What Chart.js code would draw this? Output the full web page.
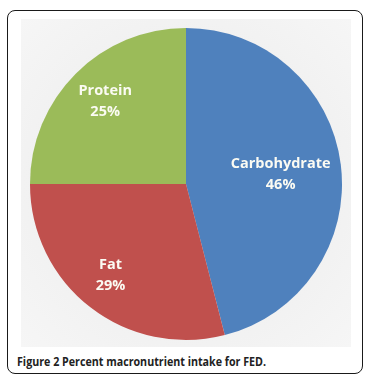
<!DOCTYPE html>
<html>
<head>
<meta charset="utf-8">
<script src="https://cdn.jsdelivr.net/npm/chart.js@4/dist/chart.umd.min.js"></script>
<style>
  html, body { margin: 0; padding: 0; background: #fff; width: 370px; height: 384px; overflow: hidden; }
  #frame { position: absolute; left: 7px; top: 10px; width: 356px; height: 364px; border: 1.5px solid #1a1a1a; border-radius: 8px; box-sizing: border-box; }
  #bg { position: absolute; left: 21px; top: 19px; width: 330px; height: 328px;
        background: radial-gradient(circle at 50% 50%, #dcdcdc 0%, #e4e4e4 48%, #f0f0f0 55%, #f6f6f6 100%); }
  #wrap { position: absolute; left: 21px; top: 19px; width: 330px; height: 328px; }
  #caption { position: absolute; left: 17px; top: 353px; font-family: "Open Sans", "Noto Sans", sans-serif; font-weight: bold; font-size: 12px; color: #222; white-space: nowrap; transform-origin: 0 50%; }
</style>
</head>
<body>
<div id="frame"></div>
<div id="bg"></div>
<div id="wrap"><canvas id="c" width="330" height="328"></canvas></div>
<div id="caption">Figure 2 Percent macronutrient intake for FED.</div>
<script>
const categories = ["Carbohydrate", "Fat", "Protein"];
const percentValues = [46, 29, 25];
const percentLabels = ["46%", "29%", "25%"];
const sliceColors = ["#4F81BD", "#C0504D", "#9BBB59"];

const cap = document.getElementById('caption');
cap.style.transform = 'scaleX(' + (249 / cap.getBoundingClientRect().width) + ')';

const labelPlugin = {
  id: 'sliceLabels',
  afterDatasetsDraw(chart, args, opts) {
    const ctx = chart.ctx;
    const meta = chart.getDatasetMeta(0);
    ctx.save();
    ctx.font = 'bold 14.5px "Open Sans", "Noto Sans", sans-serif';
    ctx.fillStyle = '#fbfbf3';
    ctx.textAlign = 'center';
    ctx.textBaseline = 'middle';
    meta.data.forEach((arc, i) => {
      const p = arc.getProps(['x','y','startAngle','endAngle','outerRadius'], true);
      const mid = (p.startAngle + p.endAngle) / 2 + opts.angleShift[i];
      const r = p.outerRadius * opts.fractions[i];
      const x = p.x + Math.cos(mid) * r;
      const y = p.y + Math.sin(mid) * r;
      ctx.fillText(categories[i], x, y - 10.5);
      ctx.fillText(percentLabels[i], x, y + 10.5);
    });
    ctx.restore();
  }
};

new Chart(document.getElementById('c'), {
  type: 'pie',
  data: {
    labels: categories,
    datasets: [{
      data: percentValues,
      backgroundColor: sliceColors,
      borderWidth: 0
    }]
  },
  options: {
    responsive: false,
    animation: false,
    layout: { padding: { left: 9, right: 9, top: 9, bottom: 7 } },
    plugins: {
      legend: { display: false },
      tooltip: { enabled: false },
      sliceLabels: { fractions: [0.61, 0.76, 0.74], angleShift: [0.02, 0.03, 0.01] }
    }
  },
  plugins: [labelPlugin]
});
</script>
</body>
</html>
